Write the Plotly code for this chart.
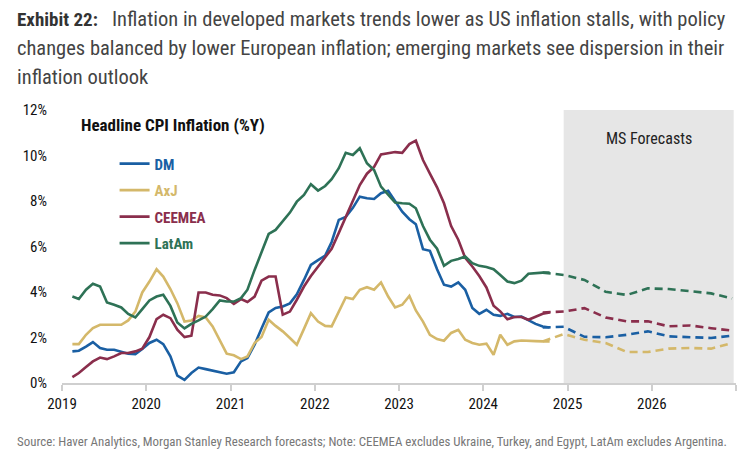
import pandas as pd
import plotly.graph_objects as go

# ---------------- data ----------------
series_names = ["DM", "AxJ", "CEEMEA", "LatAm"]
series_colors = ["#1a5fa3", "#d4b86a", "#8a2e4c", "#2e7256"]

dm = [1.39, 1.42, 1.60, 1.80, 1.54, 1.46, 1.46, 1.36, 1.29, 1.27, 1.49, 1.76,
      1.90, 1.71, 1.17, 0.32, 0.14, 0.44, 0.68, 0.61, 0.55, 0.47, 0.41, 0.47,
      0.95, 1.10, 1.68, 2.40, 3.10, 3.30, 3.36, 3.50, 3.90, 4.53, 5.19, 5.40,
      5.60, 6.20, 7.17, 7.30, 7.70, 8.19, 8.12, 8.09, 8.34, 8.45, 8.00, 7.53,
      7.20, 6.98, 5.88, 5.81, 5.00, 4.32, 4.24, 4.42, 4.10, 3.30, 3.04, 3.22,
      3.00, 2.95, 3.04, 2.90, 2.92, 2.75, 2.60, 2.48, 2.44]
axj = [1.71, 1.71, 2.12, 2.41, 2.56, 2.56, 2.56, 2.56, 2.75, 3.14, 3.98, 4.46,
       5.00, 4.68, 4.13, 3.51, 2.70, 2.75, 2.95, 2.88, 2.49, 1.90, 1.29, 1.22,
       1.05, 1.17, 1.76, 2.02, 2.78, 2.51, 2.27, 1.98, 1.68, 2.38, 3.07, 2.70,
       2.51, 2.49, 3.14, 3.76, 3.69, 4.10, 4.21, 4.10, 4.42, 3.80, 3.32, 3.44,
       3.83, 3.19, 2.70, 2.12, 1.93, 1.86, 2.20, 2.34, 1.90, 1.76, 1.68, 1.73,
       1.24, 2.12, 1.68, 1.83, 1.87, 1.87, 1.84, 1.83, 1.83]
ceemea = [0.26, 0.44, 0.70, 0.95, 1.12, 1.05, 1.17, 1.32, 1.32, 1.39, 1.51, 2.02,
          2.81, 3.00, 2.85, 2.34, 2.02, 2.08, 3.98, 3.98, 3.88, 3.85, 3.73, 3.48,
          3.69, 3.56, 3.80, 4.50, 4.68, 4.68, 3.00, 3.14, 3.66, 4.24, 4.70, 5.10,
          5.50, 5.90, 6.60, 7.30, 8.00, 8.70, 9.20, 9.50, 10.05, 10.10, 10.15, 10.12,
          10.50, 10.65, 9.80, 9.20, 8.60, 7.90, 6.90, 6.30, 5.50, 5.12, 4.70, 4.20,
          3.40, 3.15, 2.80, 2.90, 2.90, 2.78, 2.92, 3.04, 3.10]
latam = [3.80, 3.69, 4.10, 4.36, 4.24, 3.54, 3.44, 3.32, 3.04, 2.88, 3.25, 3.63,
         3.80, 3.88, 3.39, 2.66, 2.40, 2.60, 2.75, 2.92, 3.25, 3.63, 3.58, 3.58,
         3.73, 4.10, 4.97, 5.78, 6.55, 6.73, 7.09, 7.49, 7.97, 8.27, 8.74, 8.46,
         8.66, 8.96, 9.44, 10.12, 10.02, 10.32, 9.66, 9.36, 8.63, 8.27, 7.93, 7.90,
         7.88, 7.68, 6.90, 6.30, 5.90, 5.15, 5.37, 5.45, 5.56, 5.27, 5.15, 5.10,
         5.00, 4.75, 4.46, 4.39, 4.50, 4.80, 4.83, 4.85, 4.85]

actual_start = "2019-01-15"
actual_months = len(dm)

forecast_dates = ["2024-09-15", "2024-12-15", "2025-03-15", "2025-06-15", "2025-09-15",
                  "2025-12-15", "2026-03-15", "2026-06-15", "2026-09-15", "2026-12-15"]
dm_fc = [2.44, 2.47, 2.03, 2.01, 2.12, 2.27, 2.05, 2.00, 1.98, 2.08]
axj_fc = [1.83, 2.15, 1.90, 1.76, 1.36, 1.36, 1.51, 1.54, 1.51, 1.76]
ceemea_fc = [3.10, 3.14, 3.29, 2.88, 2.71, 2.71, 2.49, 2.53, 2.41, 2.30]
latam_fc = [4.85, 4.75, 4.53, 4.01, 3.87, 4.16, 4.13, 4.04, 3.94, 3.72]

year_ticks = ["2019-01-01", "2020-01-01", "2021-01-01", "2022-01-01", "2023-01-01",
              "2024-01-01", "2025-01-01", "2026-01-01", "2027-01-01"]
year_labels = ["2019", "2020", "2021", "2022", "2023", "2024", "2025", "2026", ""]
y_ticks = [0, 2, 4, 6, 8, 10, 12]
y_labels = ["0%", "2%", "4%", "6%", "8%", "10%", "12%"]

title_lines = ["<span style='font-size:19px;color:#333'><b>Exhibit 22:</b></span>   Inflation in developed markets trends lower as US inflation stalls, with policy",
               "changes balanced by lower European inflation; emerging markets see dispersion in their",
               "inflation outlook"]
chart_title = "Headline CPI Inflation (%Y)"
forecast_label = "MS Forecasts"
forecast_shade_end = "2026-12-22"
source_text = ("Source: Haver Analytics, Morgan Stanley Research forecasts; Note: CEEMEA excludes "
               "Ukraine, Turkey, and Egypt, LatAm excludes Argentina.")

# ---------------- figure ----------------
COND = "Roboto Condensed, Liberation Sans Narrow, Arial Narrow, Roboto, sans-serif"
W, H = 756, 461
ML, MR, MT, MB = 62, 20, 110, 78

dates = pd.date_range(actual_start, periods=actual_months, freq="MS") + pd.Timedelta(days=14)
actuals = [dm, axj, ceemea, latam]
forecasts = [dm_fc, axj_fc, ceemea_fc, latam_fc]

fig = go.Figure()
for i, (name, col) in enumerate(zip(series_names, series_colors)):
    fig.add_trace(go.Scatter(
        x=dates, y=actuals[i], mode="lines",
        name=f"<b><span style='color:{col}'>{name}</span></b>",
        line=dict(color=col, width=2.6),
        legendgroup=name,
    ))
for i, (name, col) in enumerate(zip(series_names, series_colors)):
    fig.add_trace(go.Scatter(
        x=forecast_dates, y=forecasts[i], mode="lines", showlegend=False,
        line=dict(color=col, width=2.6, dash="8px,5px"),
        legendgroup=name,
    ))

fig.add_shape(type="rect", xref="x", yref="y", x0=forecast_dates[1], x1=forecast_shade_end,
              y0=0, y1=12, fillcolor="#e6e6e6", line_width=0, layer="below")

fig.update_layout(
    width=W, height=H,
    margin=dict(l=ML, r=MR, t=MT, b=MB, autoexpand=False),
    paper_bgcolor="white", plot_bgcolor="white",
    font=dict(family=COND, size=14, color="#222222"),
    showlegend=True,
    legend=dict(x=0.078, y=0.863, xanchor="left", yanchor="top",
                bgcolor="rgba(0,0,0,0)", font=dict(size=15, family=COND),
                tracegroupgap=4, itemwidth=30),
    xaxis=dict(range=["2019-01-01", "2027-01-01"], tickvals=year_ticks, ticktext=year_labels,
               showgrid=False, zeroline=False, showline=True, linecolor="#cfcfcf", linewidth=1.5,
               ticks="outside", ticklen=6, tickcolor="#cfcfcf", tickwidth=1.5,
               tickfont=dict(size=15, family=COND, color="#111")),
    yaxis=dict(range=[0, 12], tickvals=y_ticks, ticktext=y_labels, showgrid=False, zeroline=False,
               showline=False, ticks="", ticklabelstandoff=14,
               tickfont=dict(size=15, family=COND, color="#111")),
)

pw, ph = W - ML - MR, H - MT - MB
def px(xp):
    return (xp - ML) / pw
def py(yp):
    return (H - MB - yp) / ph

shade_mid = pd.Timestamp(forecast_dates[1]) + (pd.Timestamp(forecast_shade_end) - pd.Timestamp(forecast_dates[1])) / 2
fig.add_annotation(x=shade_mid, xref="x", y=py(138), yref="paper", yanchor="middle",
                   text=forecast_label, showarrow=False,
                   font=dict(size=16, family=COND, color="#222"))
fig.add_annotation(x=px(79), y=py(125), xref="paper", yref="paper", xanchor="left", yanchor="middle",
                   text=f"<b>{chart_title}</b>", showarrow=False,
                   font=dict(size=17, family=COND, color="#111"))
for j, line in enumerate(title_lines):
    fig.add_annotation(x=px(15), y=py(19 + 29 * j), xref="paper", yref="paper", xanchor="left",
                       yanchor="middle", text=line, showarrow=False,
                       font=dict(size=20.5, family=COND, color="#444"))
fig.add_annotation(x=px(15), y=py(441), xref="paper", yref="paper", xanchor="left", yanchor="middle",
                   text=source_text, showarrow=False, font=dict(size=12.9, family=COND, color="#777"))

fig.write_html("out.html", config={"displayModeBar": False})
with open("out.html", "r", encoding="utf-8") as f:
    html = f.read()
html = html.replace("<body>", "<body style=\"margin:0;padding:0\">", 1)
with open("out.html", "w", encoding="utf-8") as f:
    f.write(html)
